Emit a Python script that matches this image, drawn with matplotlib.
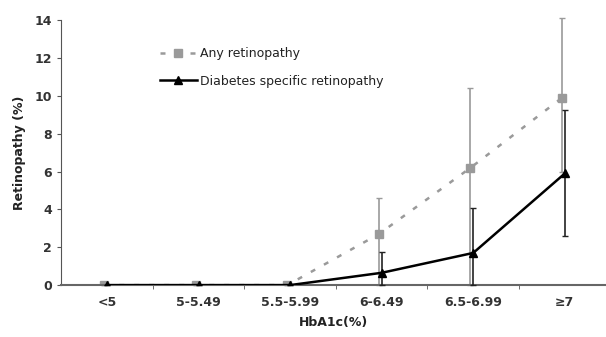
import matplotlib
matplotlib.use("Agg")
import matplotlib.pyplot as plt
from matplotlib.lines import Line2D
import numpy as np

# --- data ---
categories = ["<5", "5-5.49", "5.5-5.99", "6-6.49", "6.5-6.99", "\u22657"]

any_ret = [0, 0, 0, 2.7, 6.2, 9.9]
any_lo = [0, 0, 0, 0, 0, 6.0]
any_hi = [0, 0, 0, 4.6, 10.4, 14.1]

diab_ret = [0, 0, 0, 0.65, 1.7, 5.9]
diab_lo = [0, 0, 0, 0, 0, 2.6]
diab_hi = [0, 0, 0, 1.75, 4.1, 9.25]

x = np.arange(len(categories))
any_arr = np.array(any_ret)
diab_arr = np.array(diab_ret)
any_err = [any_arr - np.array(any_lo), np.array(any_hi) - any_arr]
diab_err = [diab_arr - np.array(diab_lo), np.array(diab_hi) - diab_arr]

fig = plt.figure(figsize=(6.06, 3.37), dpi=100)
ax = fig.add_axes([0.101, 0.154, 0.899, 0.786])

gray = "#9a9a9a"
any_style = dict(color=gray, linestyle=(0, (2, 4)), linewidth=1.8, marker="s",
                 markersize=6, markerfacecolor=gray, markeredgecolor=gray)
diab_style = dict(color="black", linestyle="-", linewidth=1.8, marker="^", markersize=6)

c1 = ax.errorbar(x - 0.03, any_arr, yerr=any_err, ecolor=gray, elinewidth=1.2,
                 capsize=2.5, capthick=1, zorder=2, **any_style)
c2 = ax.errorbar(x, diab_arr, yerr=diab_err, ecolor="#222222", elinewidth=1.2,
                 capsize=2.5, capthick=1, zorder=3, **diab_style)
for cont in (c1, c2):
    for art in cont.lines[1] + cont.lines[2]:
        art.set_clip_on(False)

ax.set_xlim(-0.5, 5.45)
ax.set_ylim(0, 14)
ax.set_yticks(np.arange(0, 15, 2))
ax.set_xticks(x)
ax.set_xticklabels(categories)
ax.set_xticks(np.arange(0.5, 5.5, 1), minor=True)
ax.tick_params(axis="x", which="major", length=0, pad=8, labelsize=9, labelcolor="#333333")
ax.tick_params(axis="x", which="minor", length=3, direction="out", color="#555555")
ax.tick_params(axis="y", length=3, labelsize=9, labelcolor="#333333", color="#555555")
for lab in ax.get_xticklabels() + ax.get_yticklabels():
    lab.set_fontweight("bold")

for side in ["top", "right"]:
    ax.spines[side].set_visible(False)
ax.spines["left"].set_color("#555555")
ax.spines["bottom"].set_color("#666666")
ax.spines["bottom"].set_linewidth(1.5)

ax.set_ylabel("Retinopathy (%)", fontsize=9, fontweight="bold", color="#222222", labelpad=6)
ax.set_xlabel("HbA1c(%)", fontsize=9, fontweight="bold", color="#222222", labelpad=5)

handles = [Line2D([], [], **any_style), Line2D([], [], **diab_style)]
leg = ax.legend(handles, ["Any retinopathy", "Diabetes specific retinopathy"],
                loc="upper left", bbox_to_anchor=(0.16, 0.94), frameon=False,
                fontsize=9, handlelength=3.0, handletextpad=0.2, labelspacing=1.15)
for t in leg.get_texts():
    t.set_color("#222222")

fig.savefig("out.png", dpi=100)
